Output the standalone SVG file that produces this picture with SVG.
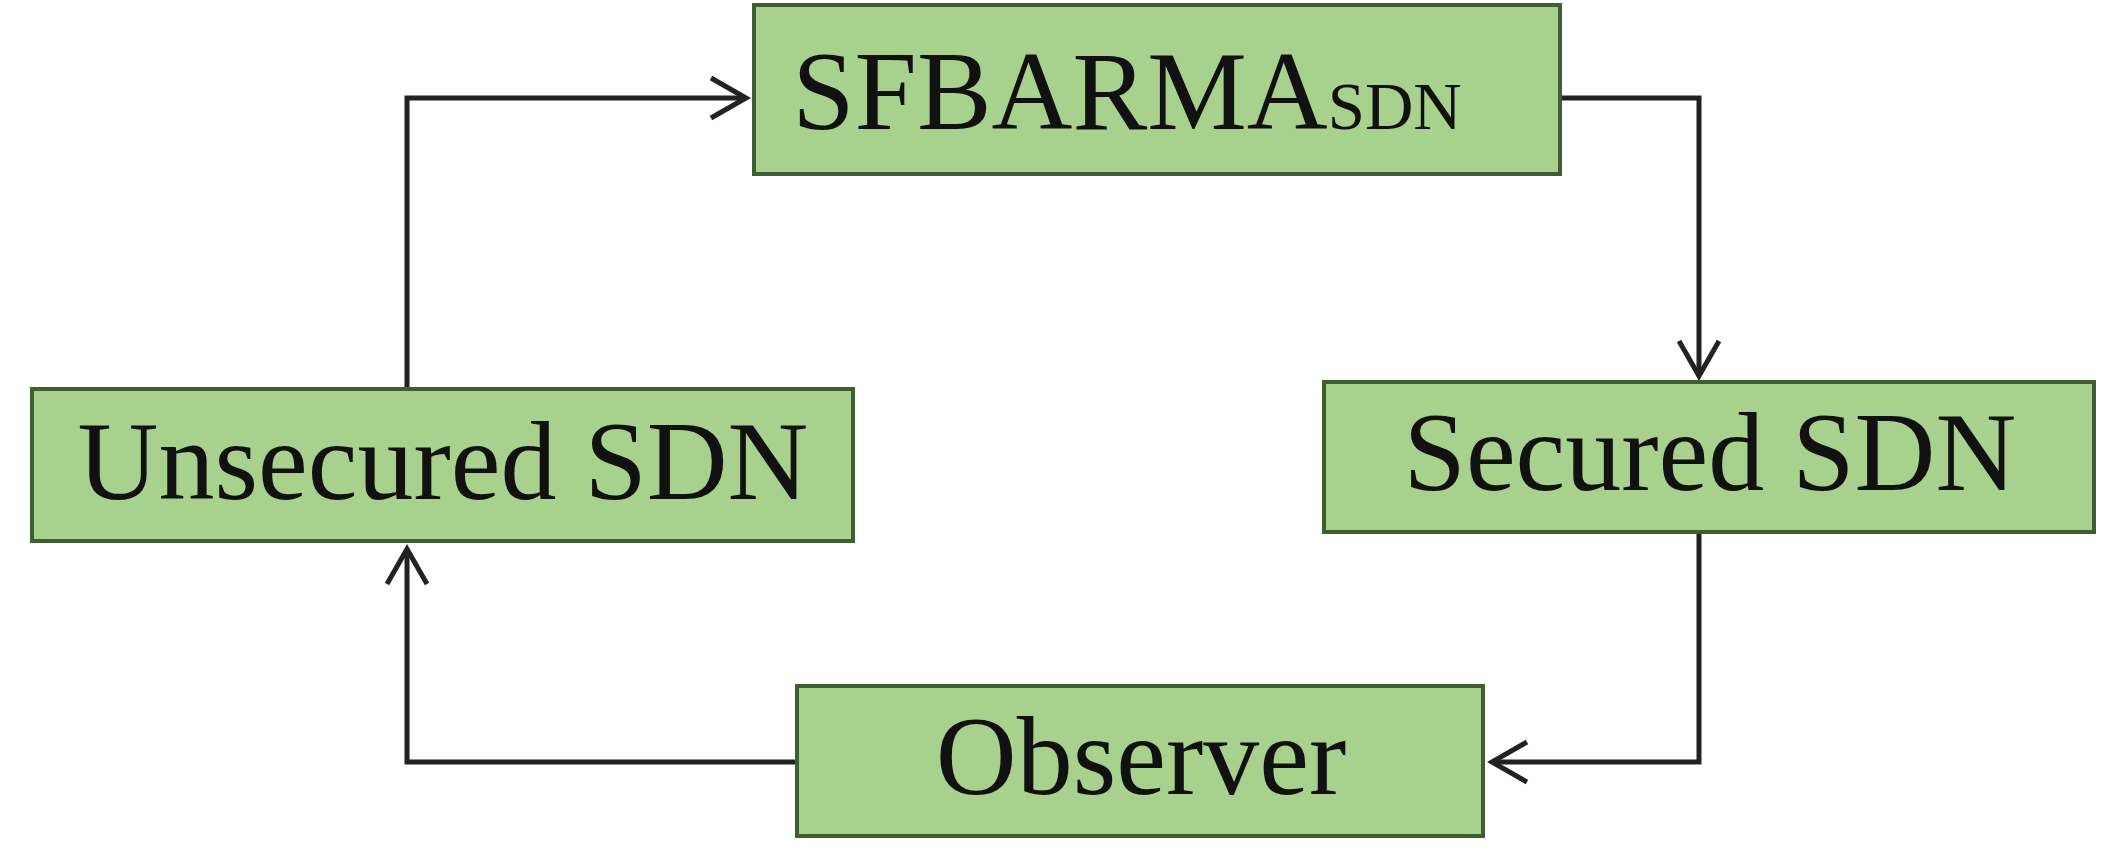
<svg xmlns="http://www.w3.org/2000/svg" width="2104" height="859" viewBox="0 0 2104 859">
<defs>
<style>
.box{fill:#a9d18e;stroke:#3f5f32;stroke-width:4}
.t{font-family:"Liberation Serif",serif;font-size:112px;fill:#111;text-anchor:middle}
.c{fill:none;stroke:#222;stroke-width:5}
</style>
</defs>
<rect width="2104" height="859" fill="#fff"/>
<g id="connectors">
<path class="c" d="M407,389 V98 H746"/>
<path class="c" d="M711,78 L746,98 L711,118"/>
<path class="c" d="M1560,98 H1699 V376"/>
<path class="c" d="M1679,341 L1699,376 L1719,341"/>
<path class="c" d="M1699,532 V762 H1492"/>
<path class="c" d="M1527,742 L1492,762 L1527,782"/>
<path class="c" d="M797,762 H407 V549"/>
<path class="c" d="M387,584 L407,549 L427,584"/>
</g>
<g id="sfbarma"><rect class="box" x="754" y="5" width="806" height="169"/><text class="t" x="1127" y="129">SFBARMA<tspan font-size="67">SDN</tspan></text></g>
<g id="unsecured"><rect class="box" x="32" y="389" width="821" height="152"/><text class="t" x="443" y="499">Unsecured SDN</text></g>
<g id="secured"><rect class="box" x="1324" y="382" width="770" height="150"/><text class="t" x="1710" y="490">Secured SDN</text></g>
<g id="observer"><rect class="box" x="797" y="686" width="686" height="150"/><text class="t" x="1141" y="794">Observer</text></g>
</svg>
